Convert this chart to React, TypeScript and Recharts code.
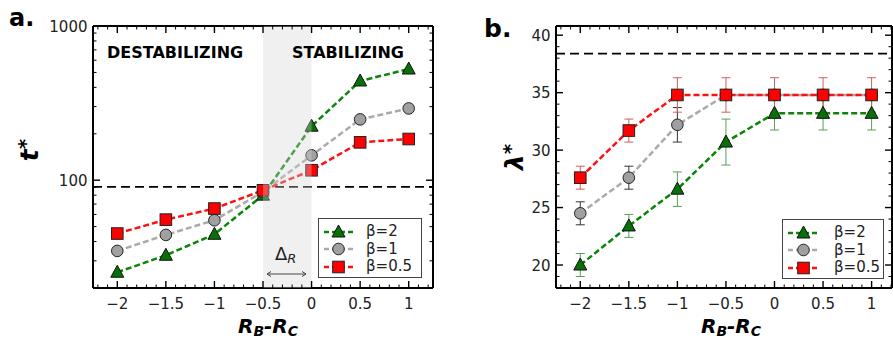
import React from 'react';
import { ComposedChart, Line, XAxis, YAxis, ReferenceLine, ReferenceArea, ErrorBar, Legend } from 'recharts';

// R_B - R_C positions shared by both panels
const rDiff = [-2, -1.5, -1, -0.5, 0, 0.5, 1];

// panel a: t* (log axis)
const tBeta2 = [25.3, 32.6, 44.6, 80, 224, 440, 526];
const tBeta1 = [34.8, 44.2, 55, 84, 145, 248, 292];
const tBeta05 = [45.1, 55.5, 65.5, 86, 116, 176, 185];
const tThreshold = 90.5;

// panel b: lambda* with error bars (gray bars hidden under the red ones from -0.5 on)
const lamBeta2 = [20.0, 23.4, 26.6, 30.7, 33.2, 33.2, 33.2];
const lamBeta2Err = [1.0, 1.0, 1.5, 2.0, 1.45, 1.45, 1.45];
const lamBeta1 = [24.5, 27.6, 32.2, 34.8, 34.8, 34.8, 34.8];
const lamBeta1Err = [1.0, 1.0, 1.5, null, null, null, null];
const lamBeta05 = [27.6, 31.7, 34.8, 34.8, 34.8, 34.8, 34.8];
const lamBeta05Err = [1.0, 1.0, 1.5, 1.5, 1.5, 1.5, 1.5];
const lamThreshold = 38.4;

// ticks
const xMajor = [-2, -1.5, -1, -0.5, 0, 0.5, 1];
const xLabels = ['−2', '−1.5', '−1', '−0.5', '0', '0.5', '1'];
const xTicks: number[] = [];
for (let i = -22; i <= 12; i++) xTicks.push(i / 10);

const tMajor = [100, 1000];
const tLabels = ['100', '1000'];
const tTicks = [20, 30, 40, 50, 60, 70, 80, 90, 100, 200, 300, 400, 500, 600, 700, 800, 900, 1000];

const lamMajor = [20, 25, 30, 35, 40];
const lamLabels = ['20', '25', '30', '35', '40'];
const lamTicks: number[] = [];
for (let v = 18; v <= 40; v++) lamTicks.push(v);

const dataA = rDiff.map((x, i) => ({ x, b2: tBeta2[i], b1: tBeta1[i], b05: tBeta05[i] }));
const dataB = rDiff.map((x, i) => ({
  x,
  b2: lamBeta2[i], b2e: lamBeta2Err[i],
  b1: lamBeta1[i], b1e: lamBeta1Err[i] ?? undefined,
  b05: lamBeta05[i], b05e: lamBeta05Err[i],
}));

const FONT = 'DejaVu Sans, sans-serif';
const GREEN = '#0a850a';
const GRAY = '#aaaaaa';
const RED = '#ff1010';

type Side = 'bottom' | 'top' | 'left' | 'right';

function makeTick(side: Side, majors: number[], labels?: string[]) {
  return (props: any) => {
    const { x, y, payload } = props;
    const v = payload.value;
    const mi = majors.findIndex((m) => Math.abs(m - v) < 1e-6);
    const major = mi >= 0;
    const len = major ? 7 : 3.5;
    let x2 = x;
    let y2 = y;
    if (side === 'bottom') y2 = y - len;
    if (side === 'top') y2 = y + len;
    if (side === 'left') x2 = x + len;
    if (side === 'right') x2 = x - len;
    return (
      <g>
        <line x1={x} y1={y} x2={x2} y2={y2} stroke="#000" strokeWidth={major ? 1.4 : 1} />
        {major && labels && side === 'bottom' && (
          <text x={x} y={y + 21} textAnchor="middle" fontFamily={FONT} fontSize={15} fill="#222">
            {labels[mi]}
          </text>
        )}
        {major && labels && side === 'left' && (
          <text x={x - 5.5} y={y + 5.5} textAnchor="end" fontFamily={FONT} fontSize={15} fill="#222">
            {labels[mi]}
          </text>
        )}
      </g>
    );
  };
}

const Triangle = ({ cx, cy, fill }: any) => (
  <polygon
    points={`${cx},${cy - 7} ${cx - 6.5},${cy + 5} ${cx + 6.5},${cy + 5}`}
    fill={fill}
    stroke="#111"
    strokeWidth={1}
  />
);
const Circle = ({ cx, cy, fill }: any) => <circle cx={cx} cy={cy} r={5.8} fill={fill} stroke="#222" strokeWidth={1} />;
const Square = ({ cx, cy, fill }: any) => (
  <rect x={cx - 5.8} y={cy - 5.8} width={11.6} height={11.6} fill={fill} stroke="#222" strokeWidth={1} />
);

const dotOf = (Shape: any, fill: string) => (p: any) => {
  if (p.cx == null || p.cy == null) return <g key={`e${p.index}`} />;
  return (
    <g key={`d${p.index}`}>
      <Shape cx={p.cx} cy={p.cy} fill={fill} />
    </g>
  );
};

const legendItems = [
  { name: 'β=2', color: GREEN, Shape: Triangle, fill: '#087008' },
  { name: 'β=1', color: GRAY, Shape: Circle, fill: '#a0a0a0' },
  { name: 'β=0.5', color: RED, Shape: Square, fill: '#ff0000' },
];

const LegendBox = ({ sampleW, gap }: { sampleW: number; gap: number }) => (
  <div
    style={{
      width: '100%',
      height: '100%',
      boxSizing: 'border-box',
      border: '1px solid #444',
      background: '#fff',
      paddingTop: 4,
      fontFamily: FONT,
      fontSize: 15,
      color: '#222',
    }}
  >
    {legendItems.map((it) => (
      <div key={it.name} style={{ display: 'flex', alignItems: 'center', height: 17.5 }}>
        <svg width={sampleW + 6} height={16} style={{ flex: 'none' }}>
          <line x1={5} x2={sampleW + 5} y1={8} y2={8} stroke={it.color} strokeWidth={2.5} strokeDasharray="5 3" />
          <it.Shape cx={sampleW / 2 + 5} cy={8} fill={it.fill} />
        </svg>
        <span style={{ marginLeft: gap, lineHeight: '15px' }}>{it.name}</span>
      </div>
    ))}
  </div>
);

const axisLine = { stroke: '#000', strokeWidth: 2 };

const PanelA = () => (
  <ComposedChart width={450} height={338} data={dataA} margin={{ top: 25, right: 16, bottom: 49, left: 92 }}>
    <XAxis dataKey="x" type="number" domain={[-2.25, 1.25]} ticks={xTicks} interval={0} height={1}
      tickSize={0} tickMargin={0} axisLine={axisLine} tick={makeTick('bottom', xMajor, xLabels)} />
    <XAxis xAxisId="top" orientation="top" dataKey="x" type="number" domain={[-2.25, 1.25]} ticks={xTicks}
      interval={0} height={1} tickSize={0} tickMargin={0} axisLine={axisLine} tick={makeTick('top', xMajor)} />
    <YAxis type="number" scale="log" domain={[20, 1000]} ticks={tTicks} interval={0} width={1}
      tickSize={0} tickMargin={0} axisLine={axisLine} tick={makeTick('left', tMajor, tLabels)} allowDataOverflow />
    <YAxis yAxisId="right" orientation="right" type="number" scale="log" domain={[20, 1000]} ticks={tTicks}
      interval={0} width={1} tickSize={0} tickMargin={0} axisLine={axisLine} tick={makeTick('right', tMajor)} allowDataOverflow />
    <ReferenceLine y={tThreshold} stroke="#000" strokeWidth={1.6} strokeDasharray="9 5" />
    <Line dataKey="b2" name="β=2" stroke={GREEN} strokeWidth={2.5} strokeDasharray="6 3" isAnimationActive={false}
      dot={dotOf(Triangle, '#087008')} activeDot={false} />
    <Line dataKey="b1" name="β=1" stroke={GRAY} strokeWidth={2.5} strokeDasharray="6 3" isAnimationActive={false}
      dot={dotOf(Circle, '#a0a0a0')} activeDot={false} />
    <Line dataKey="b05" name="β=0.5" stroke={RED} strokeWidth={2.5} strokeDasharray="6 3" isAnimationActive={false}
      dot={dotOf(Square, '#ff0000')} activeDot={false} />
    <ReferenceArea x1={-0.5} x2={0} fill="#d4d4d4" fillOpacity={0.35} stroke="none" zIndex={1500} />
    <Legend layout="vertical" align="center" verticalAlign="middle" width={104} height={60}
      wrapperStyle={{ left: 318, top: 218, width: 104, height: 60 }}
      content={() => <LegendBox sampleW={29} gap={12} />} />
  </ComposedChart>
);

const PanelB = () => (
  <ComposedChart width={443} height={338} data={dataB} margin={{ top: 25, right: 0, bottom: 49, left: 105 }}>
    <XAxis dataKey="x" type="number" domain={[-2.25, 1.21]} ticks={xTicks} interval={0} height={1}
      tickSize={0} tickMargin={0} axisLine={axisLine} tick={makeTick('bottom', xMajor, xLabels)} allowDataOverflow />
    <XAxis xAxisId="top" orientation="top" dataKey="x" type="number" domain={[-2.25, 1.21]} ticks={xTicks}
      interval={0} height={1} tickSize={0} tickMargin={0} axisLine={axisLine} tick={makeTick('top', xMajor)} allowDataOverflow />
    <YAxis type="number" domain={[18, 40.8]} ticks={lamTicks} interval={0} width={1}
      tickSize={0} tickMargin={0} axisLine={axisLine} tick={makeTick('left', lamMajor, lamLabels)} allowDataOverflow />
    <YAxis yAxisId="right" orientation="right" type="number" domain={[18, 40.8]} ticks={lamTicks}
      interval={0} width={1} tickSize={0} tickMargin={0} axisLine={axisLine} tick={makeTick('right', lamMajor)} allowDataOverflow />
    <ReferenceLine y={lamThreshold} stroke="#000" strokeWidth={1.6} strokeDasharray="9 5" />
    <Line dataKey="b2" name="β=2" stroke={GREEN} strokeWidth={2.5} strokeDasharray="6 3" isAnimationActive={false}
      dot={dotOf(Triangle, '#087008')} activeDot={false}>
      <ErrorBar dataKey="b2e" width={4.5} stroke="#5a9e5a" strokeWidth={1} direction="y" />
    </Line>
    <Line dataKey="b1" name="β=1" stroke={GRAY} strokeWidth={2.5} strokeDasharray="6 3" isAnimationActive={false}
      dot={dotOf(Circle, '#a0a0a0')} activeDot={false}>
      <ErrorBar dataKey="b1e" width={4.5} stroke="#333" strokeWidth={1} direction="y" />
    </Line>
    <Line dataKey="b05" name="β=0.5" stroke={RED} strokeWidth={2.5} strokeDasharray="6 3" isAnimationActive={false}
      dot={dotOf(Square, '#ff0000')} activeDot={false}>
      <ErrorBar dataKey="b05e" width={4.5} stroke="#cc6060" strokeWidth={1} direction="y" />
    </Line>
    <Legend layout="vertical" align="center" verticalAlign="middle" width={102} height={60}
      wrapperStyle={{ left: 332, top: 219, width: 102, height: 60 }}
      content={() => <LegendBox sampleW={31} gap={14} />} />
  </ComposedChart>
);

export default function App() {
  const bold = { fontFamily: FONT, fontWeight: 'bold' as const, fill: '#000' };
  return (
    <div style={{ position: 'absolute', left: 0, top: 0, width: 893, height: 338, overflow: 'hidden', background: '#fff', fontFamily: FONT }}>
      <div style={{ position: 'absolute', left: 0, top: 0 }}>
        <PanelA />
      </div>
      <div style={{ position: 'absolute', left: 450, top: 0 }}>
        <PanelB />
      </div>
      <svg width={893} height={338} style={{ position: 'absolute', left: 0, top: 0, pointerEvents: 'none' }}>
        <text x={9} y={26} fontSize={24} {...bold}>a.</text>
        <text x={484} y={37} fontSize={25} {...bold}>b.</text>
        <text x={107} y={58} fontSize={16} {...bold}>DESTABILIZING</text>
        <text x={292} y={58} fontSize={16} {...bold}>STABILIZING</text>
        <text x={275} y={260} fontFamily={FONT} fontSize={18} fill="#222">
          Δ<tspan fontStyle="italic" fontSize={13} dy={3}>R</tspan>
        </text>
        <g stroke="#444" strokeWidth={1} fill="none">
          <line x1={267} x2={306} y1={274} y2={274} />
          <polyline points="271,271.5 267,274 271,276.5" />
          <polyline points="302,271.5 306,274 302,276.5" />
        </g>
        <text x={268} y={333} textAnchor="middle" fontSize={20} fontStyle="italic" {...bold}>
          R<tspan fontSize={14} dy={3}>B</tspan><tspan dy={-3}>-R</tspan><tspan fontSize={14} dy={3}>C</tspan>
        </text>
        <text x={731} y={333} textAnchor="middle" fontSize={20} fontStyle="italic" {...bold}>
          R<tspan fontSize={14} dy={3}>B</tspan><tspan dy={-3}>-R</tspan><tspan fontSize={14} dy={3}>C</tspan>
        </text>
        <text transform="translate(38,150) rotate(-90)" textAnchor="middle" fontSize={25} fontStyle="italic" {...bold}>
          t<tspan fontSize={20} dy={-6}>*</tspan>
        </text>
        <text transform="translate(523,157) rotate(-90)" textAnchor="middle" fontSize={25} fontStyle="italic" {...bold}>
          λ<tspan fontSize={20} dy={-6}>*</tspan>
        </text>
      </svg>
    </div>
  );
}
